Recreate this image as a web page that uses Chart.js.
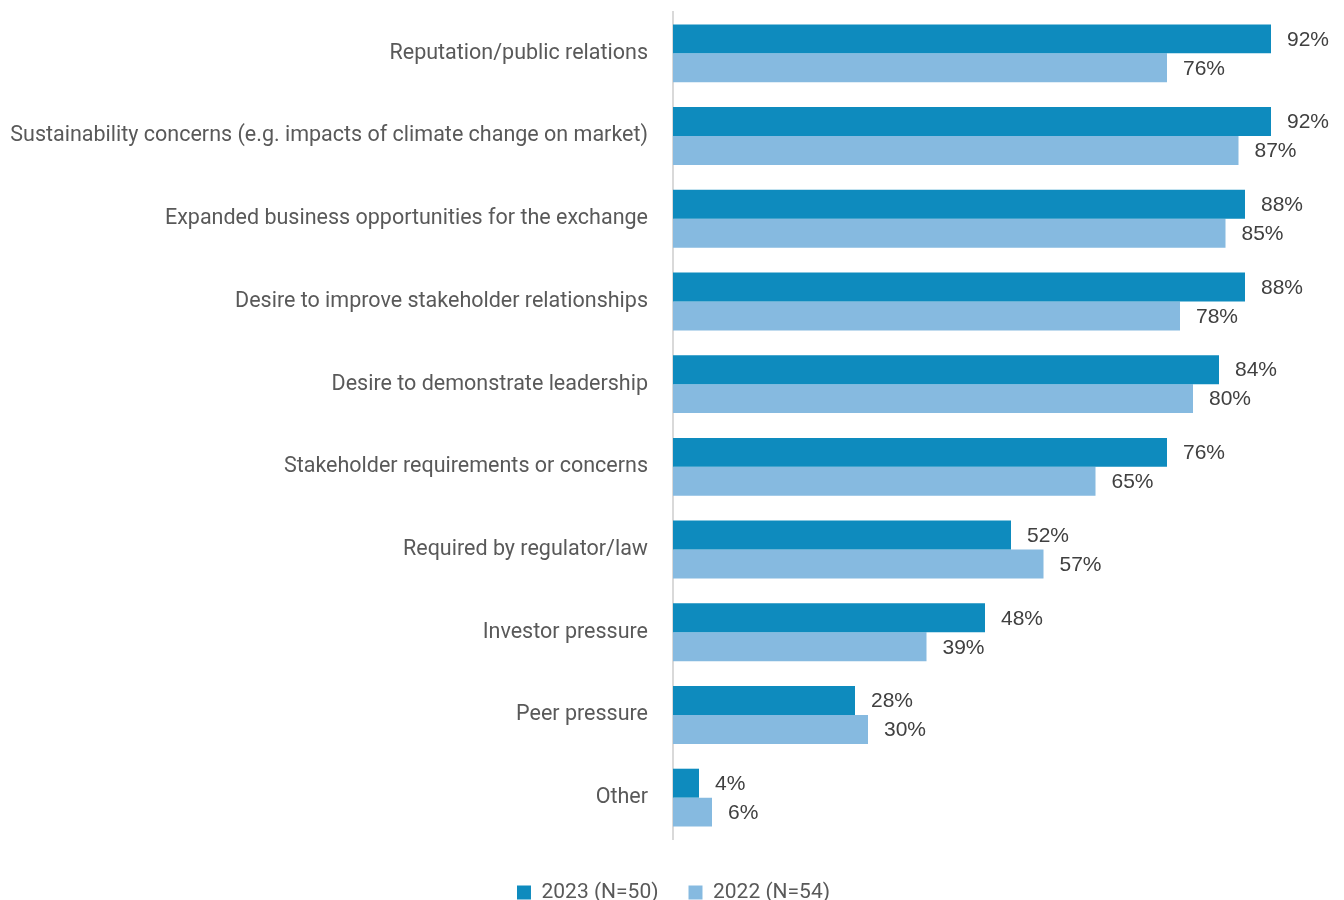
<!DOCTYPE html>
<html>
<head>
<meta charset="utf-8">
<script src="https://cdn.jsdelivr.net/npm/chart.js@4/dist/chart.umd.min.js"></script>
<style>
  html, body { margin: 0; padding: 0; background: #fff; }
  #wrap { width: 1344px; height: 900px; position: relative; }
</style>
</head>
<body>
<div id="wrap"><canvas id="chart"></canvas></div>
<script>
// motivos (categorias) e percentuais por ano
const categories = [
    'Reputation/public relations',
    'Sustainability concerns (e.g. impacts of climate change on market)',
    'Expanded business opportunities for the exchange',
    'Desire to improve stakeholder relationships',
    'Desire to demonstrate leadership',
    'Stakeholder requirements or concerns',
    'Required by regulator/law',
    'Investor pressure',
    'Peer pressure',
    'Other'
];
const values2023 = [92, 92, 88, 88, 84, 76, 52, 48, 28, 4];
const values2022 = [76, 87, 85, 78, 80, 65, 57, 39, 30, 6];
const seriesNames = ['2023 (N=50)', '2022 (N=54)'];

const FONT = 'Roboto, "Liberation Sans", sans-serif';
const TXT = '#595959';

// rótulos de valor no fim de cada barra
const valueLabels = {
    id: 'valueLabels',
    afterDatasetsDraw(chart) {
        const ctx = chart.ctx;
        ctx.save();
        ctx.font = '21px "Liberation Sans", Arial, sans-serif';
        ctx.fillStyle = '#404040';
        ctx.textAlign = 'left';
        ctx.textBaseline = 'middle';
        chart.data.datasets.forEach((ds, i) => {
            chart.getDatasetMeta(i).data.forEach((bar, j) => {
                ctx.fillText(ds.data[j] + '%', bar.x + 16, bar.y + 1);
            });
        });
        ctx.restore();
    }
};

// desce a legenda
const legendShift = {
    id: 'legendShift',
    afterLayout(chart) {
        const lg = chart.legend;
        if (lg) { lg.top += 13; lg.bottom += 13; lg.left += 12; lg.right += 12; }
    }
};

new Chart(document.getElementById('chart'), {
    type: 'bar',
    data: {
        labels: categories,
        datasets: [
            { label: seriesNames[0], data: values2023, backgroundColor: '#0E8BBE', borderWidth: 0 },
            { label: seriesNames[1], data: values2022, backgroundColor: '#86BAE0', borderWidth: 0 }
        ]
    },
    options: {
        indexAxis: 'y',
        responsive: true,
        maintainAspectRatio: false,
        animation: false,
        layout: { padding: { top: 12, right: 21, bottom: 0, left: 0 } },
        datasets: { bar: { categoryPercentage: 0.70, barPercentage: 1.0 } },
        scales: {
            x: { display: false, min: 0, max: 100 },
            y: {
                grid: { display: false },
                border: { display: true, color: '#d9d9d9', width: 2 },
                ticks: { color: TXT, font: { family: FONT, size: 21.5 }, padding: 17 },
                afterFit(scale) {
                    scale.width = 673;
                    scale.paddingTop = 0;
                    scale.paddingBottom = 0;
                }
            }
        },
        plugins: {
            legend: {
                position: 'bottom',
                labels: {
                    color: TXT,
                    font: { family: FONT, size: 21 },
                    boxWidth: 14,
                    boxHeight: 14,
                    padding: 30
                }
            },
            tooltip: { enabled: false }
        }
    },
    plugins: [valueLabels, legendShift]
});
</script>
</body>
</html>
